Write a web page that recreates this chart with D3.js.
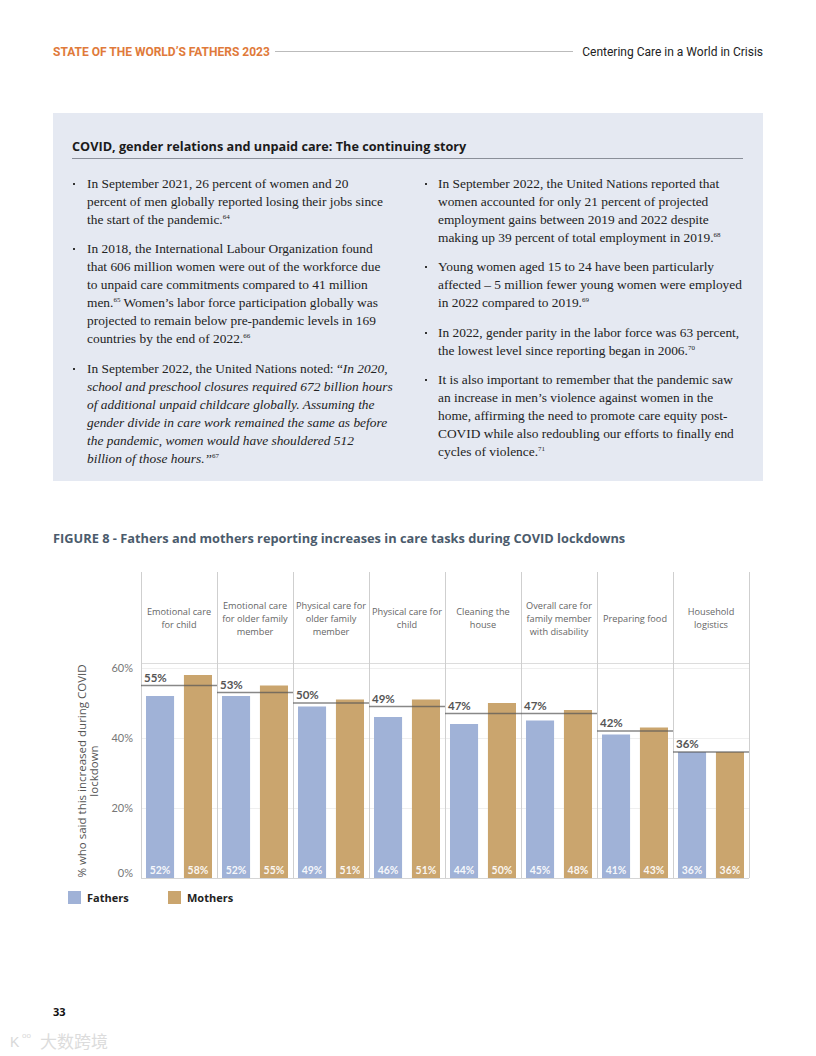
<!DOCTYPE html>
<html><head><meta charset="utf-8">
<script src="https://cdn.jsdelivr.net/npm/d3@7"></script>
<style>
body{margin:0;background:#fff;}
svg{display:block;}
</style></head>
<body>
<svg id="page" width="816" height="1056"></svg>
<script>
// ---------- DATA ----------
const categories = [
  ["Emotional care","for child"],
  ["Emotional care","for older family","member"],
  ["Physical care for","older family","member"],
  ["Physical care for","child"],
  ["Cleaning the","house"],
  ["Overall care for","family member","with disability"],
  ["Preparing food"],
  ["Household","logistics"]
];
const fathers = [52, 52, 49, 46, 44, 45, 41, 36];
const mothers = [58, 55, 51, 51, 50, 48, 43, 36];
const averages = [55, 53, 50, 49, 47, 47, 42, 36];
const yTicks = [0, 20, 40, 60];
const seriesNames = ["Fathers", "Mothers"];
const seriesColors = ["#a0b2d7", "#caa56e"];

// ---------- PAGE ----------
const svg = d3.select("#page");
svg.append("rect").attr("width",816).attr("height",1056).attr("fill","#fff");

// header
svg.append("text").attr("x",53).attr("y",56)
  .attr("font-family","'Liberation Sans Narrow','Roboto',sans-serif").attr("font-weight","bold")
  .attr("font-size",12).attr("fill","#e07a3a").text("STATE OF THE WORLD’S FATHERS 2023");
svg.append("line").attr("x1",275).attr("x2",573).attr("y1",51.5).attr("y2",51.5)
  .attr("stroke","#bbb").attr("stroke-width",1);
svg.append("text").attr("x",763).attr("y",56).attr("text-anchor","end")
  .attr("font-family","Roboto, sans-serif").attr("font-size",12).attr("fill","#222")
  .text("Centering Care in a World in Crisis");

// box
svg.append("rect").attr("x",53).attr("y",113).attr("width",710).attr("height",368).attr("fill","#e5e9f2");
svg.append("text").attr("x",72).attr("y",151)
  .attr("font-family","'Open Sans',sans-serif").attr("font-weight","bold")
  .attr("font-size",12.7).attr("fill","#1b1b1b")
  .text("COVID, gender relations and unpaid care: The continuing story");
svg.append("line").attr("x1",72).attr("x2",743).attr("y1",158.5).attr("y2",158.5)
  .attr("stroke","#8a8f99").attr("stroke-width",1);

const S = (t)=>({t, sup:true});
const I = (t)=>({t, it:true});
const leftBullets = [
  {y:188, lines:[
    ["In September 2021, 26 percent of women and 20"],
    ["percent of men globally reported losing their jobs since"],
    ["the start of the pandemic.", S("64")]]},
  {y:253, lines:[
    ["In 2018, the International Labour Organization found"],
    ["that 606 million women were out of the workforce due"],
    ["to unpaid care commitments compared to 41 million"],
    ["men.", S("65"), " Women’s labor force participation globally was"],
    ["projected to remain below pre-pandemic levels in 169"],
    ["countries by the end of 2022.", S("66")]]},
  {y:373, lines:[
    ["In September 2022, the United Nations noted: “", I("In 2020,")],
    [I("school and preschool closures required 672 billion hours")],
    [I("of additional unpaid childcare globally. Assuming the")],
    [I("gender divide in care work remained the same as before")],
    [I("the pandemic, women would have shouldered 512")],
    [I("billion of those hours.”"), S("67")]]}
];
const rightBullets = [
  {y:188, lines:[
    ["In September 2022, the United Nations reported that"],
    ["women accounted for only 21 percent of projected"],
    ["employment gains between 2019 and 2022 despite"],
    ["making up 39 percent of total employment in 2019.", S("68")]]},
  {y:271, lines:[
    ["Young women aged 15 to 24 have been particularly"],
    ["affected – 5 million fewer young women were employed"],
    ["in 2022 compared to 2019.", S("69")]]},
  {y:337, lines:[
    ["In 2022, gender parity in the labor force was 63 percent,"],
    ["the lowest level since reporting began in 2006.", S("70")]]},
  {y:384, lines:[
    ["It is also important to remember that the pandemic saw"],
    ["an increase in men’s violence against women in the"],
    ["home, affirming the need to promote care equity post-"],
    ["COVID while also redoubling our efforts to finally end"],
    ["cycles of violence.", S("71")]]}
];
const bodyFont = "'Liberation Serif','DejaVu Serif',serif";
const bodySize = 13.4;
function drawBullets(list, bx, tx){
  list.forEach(b=>{
    svg.append("rect").attr("x",bx).attr("y",b.y-5).attr("width",2).attr("height",2).attr("fill","#333");
    b.lines.forEach((segs,i)=>{
      const t = svg.append("text").attr("x",tx).attr("y",b.y+i*18)
        .attr("font-family",bodyFont).attr("font-size",bodySize).attr("fill","#222");
      let raised = false;
      segs.forEach(s=>{
        let sp;
        if(typeof s==="string"){ sp = t.append("tspan").text(s); }
        else if(s.sup){ sp = t.append("tspan").attr("font-size",7).text(s.t); }
        else { sp = t.append("tspan").attr("font-style","italic").text(s.t); }
        const isSup = typeof s!=="string" && s.sup;
        if(isSup && !raised){ sp.attr("dy",-5); raised = true; }
        else if(!isSup && raised){ sp.attr("dy",5); raised = false; }
      });
    });
  });
}
drawBullets(leftBullets, 73, 87);
drawBullets(rightBullets, 425, 438);

// figure title
svg.append("text").attr("x",53).attr("y",543)
  .attr("font-family","'Open Sans',sans-serif").attr("font-weight","bold")
  .attr("font-size",12.8).attr("fill","#4b5b6c")
  .text("FIGURE 8 - Fathers and mothers reporting increases in care tasks during COVID lockdowns");

// ---------- CHART ----------
const cLeft = 141, cRight = 749, cTop = 572, headerBottom = 663, base = 878;
const x0 = d3.scaleBand().domain(d3.range(categories.length)).range([cLeft, cRight]).padding(0);
const x1 = d3.scaleBand().domain(seriesNames).range([5, x0.bandwidth()-5]).paddingInner(0.26);
const y = d3.scaleLinear().domain([0, 60]).range([base, 668]);

const g = svg.append("g");
g.selectAll(".grid").data(yTicks.filter(d=>d>0)).join("line")
  .attr("x1",cLeft).attr("x2",cRight).attr("y1",d=>y(d)+0.5).attr("y2",d=>y(d)+0.5)
  .attr("stroke","#efefef").attr("stroke-width",1);
g.append("line").attr("x1",cLeft).attr("x2",cRight).attr("y1",headerBottom+0.5).attr("y2",headerBottom+0.5)
  .attr("stroke","#dcdcdc");
g.selectAll(".sep").data(d3.range(categories.length+1)).join("line")
  .attr("x1",d=>cLeft + d*x0.bandwidth()+0.5).attr("x2",d=>cLeft + d*x0.bandwidth()+0.5)
  .attr("y1",cTop).attr("y2",base).attr("stroke","#cfcfcf").attr("stroke-width",1);

categories.forEach((lines,i)=>{
  const cx = x0(i) + x0.bandwidth()/2;
  const cy = 618 - (lines.length-1)*13/2;
  const t = g.append("text").attr("text-anchor","middle")
    .attr("font-family","'Open Sans',sans-serif").attr("font-size",9.2).attr("fill","#666");
  lines.forEach((l,j)=>{
    t.append("tspan").attr("x",cx).attr("y",cy + j*13 + 3.5).text(l);
  });
});

const data = categories.map((c,i)=>({i, vals:[fathers[i], mothers[i]]}));
const cols = g.selectAll(".col").data(data).join("g").attr("transform",d=>`translate(${x0(d.i)},0)`);
cols.selectAll("rect").data(d=>d.vals.map((v,k)=>({v,k}))).join("rect")
  .attr("x",d=>x1(seriesNames[d.k])).attr("width",x1.bandwidth())
  .attr("y",d=>y(d.v)).attr("height",d=>base-y(d.v))
  .attr("fill",d=>seriesColors[d.k]);
cols.selectAll(".vl").data(d=>d.vals.map((v,k)=>({v,k}))).join("text")
  .attr("x",d=>x1(seriesNames[d.k])+x1.bandwidth()/2).attr("y",base-4)
  .attr("text-anchor","middle").attr("font-family","Lato, sans-serif").attr("font-weight","bold")
  .attr("font-size",10.5).attr("fill","#fff").attr("fill-opacity",0.92)
  .text(d=>d.v+"%");

cols.append("line")
  .attr("x1",0).attr("x2",x0.bandwidth())
  .attr("y1",d=>y(averages[d.i])).attr("y2",d=>y(averages[d.i]))
  .attr("stroke","#555").attr("stroke-opacity",0.7).attr("stroke-width",1.5);
cols.append("text")
  .attr("x",3).attr("y",d=>y(averages[d.i])-4)
  .attr("font-family","Lato, sans-serif").attr("font-weight","bold")
  .attr("font-size",11.5).attr("fill","#555")
  .text(d=>averages[d.i]+"%");

g.append("line").attr("x1",cLeft).attr("x2",cRight).attr("y1",base+0.5).attr("y2",base+0.5)
  .attr("stroke","#d5d5d5");

const yAxis = d3.axisLeft(y).tickValues(yTicks).tickFormat(d=>d+"%").tickSize(0).tickPadding(0);
const ya = svg.append("g").attr("transform",`translate(133,0)`).call(yAxis);
ya.select(".domain").remove();
ya.selectAll("text").attr("font-family","Lato, sans-serif").attr("font-size",11)
  .attr("fill","#777").attr("dy","0.32em");
ya.selectAll(".tick").filter(d=>d===0).select("text").attr("dy","-0.1em");

const yt = svg.append("text").attr("transform","translate(0,771) rotate(-90)")
  .attr("text-anchor","middle").attr("font-family","'Open Sans',sans-serif")
  .attr("font-size",11.5).attr("fill","#555");
yt.append("tspan").attr("x",0).attr("y",86).text("% who said this increased during COVID");
yt.append("tspan").attr("x",0).attr("y",98).text("lockdown");

const lg = svg.append("g");
seriesNames.forEach((n,k)=>{
  const lx = 68 + k*100;
  lg.append("rect").attr("x",lx).attr("y",891).attr("width",13).attr("height",13).attr("fill",seriesColors[k]);
  lg.append("text").attr("x",lx+19).attr("y",902)
    .attr("font-family","'Open Sans',sans-serif").attr("font-weight","bold")
    .attr("font-size",11).attr("fill","#222").text(n);
});

svg.append("text").attr("x",53).attr("y",1016)
  .attr("font-family","'Open Sans',sans-serif").attr("font-weight","bold")
  .attr("font-size",11).attr("fill","#111").text("33");
svg.append("text").attr("x",10).attr("y",1047)
  .attr("font-family","'Liberation Sans',sans-serif").attr("font-size",14).attr("fill","#d8d8d8")
  .text("K");
svg.append("text").attr("x",22).attr("y",1038)
  .attr("font-family","'Liberation Sans',sans-serif").attr("font-size",8).attr("fill","#d8d8d8")
  .text("oo");
svg.append("text").attr("x",40).attr("y",1048)
  .attr("font-family","'Noto Sans CJK SC',sans-serif").attr("font-size",17).attr("fill","#dcdcdc")
  .text("大数跨境");
</script>
</body></html>
